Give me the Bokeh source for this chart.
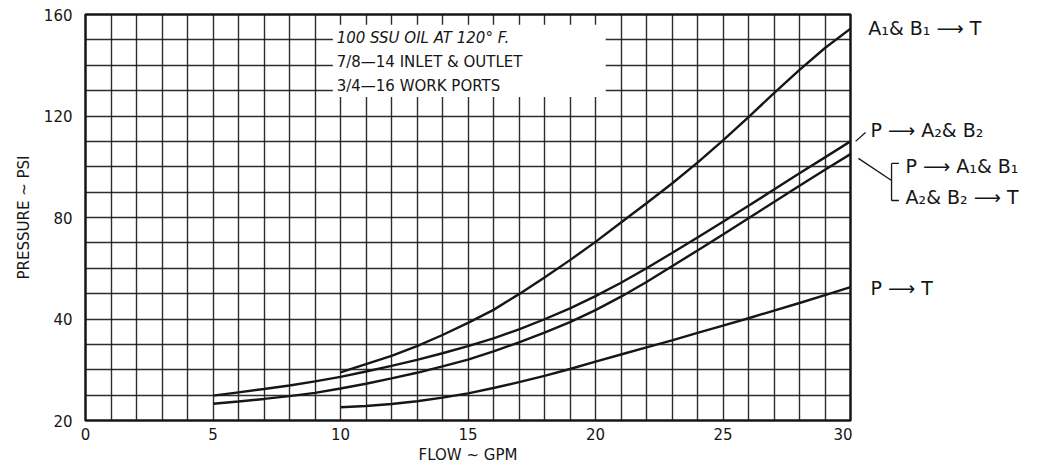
from bokeh.plotting import figure
from bokeh.layouts import row
from bokeh.models import FixedTicker, SingleIntervalTicker, Label, BoxAnnotation, Range1d
from bokeh.embed import file_html
from bokeh.resources import INLINE

# ---- data ----
flow_a1b1 = list(range(10, 31))
press_a1b1_t = [19.0, 22.2, 25.5, 29.3, 33.7, 38.5, 43.6, 49.8, 56.4, 63.2, 70.4,
                78.0, 85.6, 93.4, 101.6, 110.4, 119.6, 129.0, 138.2, 146.8, 154.4]

flow_mid = list(range(5, 31))
press_p_a2b2 = [9.8, 11.1, 12.4, 13.8, 15.4, 17.2, 19.3, 21.5, 23.9, 26.5, 29.3, 32.4, 35.9,
                39.9, 44.2, 49.0, 54.3, 60.0, 66.0, 72.1, 78.3, 84.6, 91.0, 97.4, 103.7, 110.0]
press_p_a1b1 = [6.6, 7.5, 8.5, 9.6, 10.9, 12.6, 14.5, 16.6, 18.8, 21.3, 24.0, 27.2, 30.8,
                34.6, 38.8, 43.5, 48.8, 54.6, 60.8, 67.0, 73.3, 79.7, 86.1, 92.5, 98.8, 105.0]

flow_pt = list(range(10, 31))
press_p_t = [5.2, 5.7, 6.5, 7.6, 9.0, 10.7, 12.8, 15.1, 17.6, 20.3, 23.2,
             26.0, 28.8, 31.6, 34.5, 37.4, 40.3, 43.3, 46.3, 49.4, 52.6]

x_ticks = [0, 5, 10, 15, 20, 25, 30]
y_ticks = [0, 40, 80, 120, 160]
y_tick_text = ["20", "40", "80", "120", "160"]

note_lines = ["100  SSU  OIL  AT  120° F.", "7/8—14  INLET  &  OUTLET", "3/4—16  WORK  PORTS"]
curve_labels = ["A₁& B₁ ⟶ T", "P ⟶ A₂& B₂", "P ⟶ A₁& B₁", "A₂& B₂ ⟶ T", "P ⟶ T"]

INK = "#161616"
FONT = "DejaVu Sans"
PX_PER_X = 25.5

p = figure(frame_width=765, frame_height=406, x_range=Range1d(0, 30), y_range=Range1d(0, 160),
           output_backend="svg", toolbar_location=None,
           min_border_left=85, min_border_right=2, min_border_top=14, min_border_bottom=44,
           background_fill_color="white", border_fill_color="white")

p.outline_line_color = INK
p.outline_line_width = 2.5

p.xaxis.ticker = FixedTicker(ticks=x_ticks)
p.yaxis.ticker = FixedTicker(ticks=y_ticks)
p.yaxis.major_label_overrides = {t: s for t, s in zip(y_ticks, y_tick_text)}

for ax in (p.xaxis, p.yaxis):
    ax.axis_line_color = None
    ax.major_tick_line_color = None
    ax.minor_tick_line_color = None
    ax.major_tick_out = 0
    ax.major_tick_in = 0
    ax.major_label_text_font = FONT
    ax.major_label_text_font_size = "15px"
    ax.major_label_text_color = INK
    ax.axis_label_text_font = FONT
    ax.axis_label_text_font_size = "15px"
    ax.axis_label_text_font_style = "normal"
    ax.axis_label_text_color = INK

p.xaxis.axis_label = "FLOW ~ GPM"
p.yaxis.axis_label = "PRESSURE ~ PSI"
p.xaxis.major_label_standoff = 7
p.yaxis.major_label_standoff = 13
p.xaxis.axis_label_standoff = 3
p.yaxis.axis_label_standoff = 8

p.xgrid.ticker = SingleIntervalTicker(interval=1)
p.ygrid.ticker = SingleIntervalTicker(interval=10)
for g in (p.xgrid, p.ygrid):
    g.grid_line_color = INK
    g.grid_line_alpha = 0.9
    g.grid_line_width = 1.4

# curves
p.line(flow_a1b1, press_a1b1_t, line_color=INK, line_width=2.4)
p.line(flow_mid, press_p_a2b2, line_color=INK, line_width=2.4)
p.line(flow_mid, press_p_a1b1, line_color=INK, line_width=2.4)
p.line(flow_pt, press_p_t, line_color=INK, line_width=2.4)

# white note box
p.add_layout(BoxAnnotation(left=9.7, right=20.4, bottom=127.5, top=156, fill_color="white",
                           fill_alpha=1.0, line_color=None, level="underlay"))
note_y = [150.9, 141.1, 132.0]
for i, (txt, yy) in enumerate(zip(note_lines, note_y)):
    p.add_layout(Label(x=9.85, y=yy, text=txt, text_font=FONT, text_font_size="15px",
                       text_font_style="italic" if i == 0 else "normal",
                       text_color=INK, text_baseline="middle", text_align="left"))

# right-hand panel for the curve labels (same y scale, continues x scale)
x0 = 30 + 2 / PX_PER_X
q = figure(frame_width=180, frame_height=406,
           x_range=Range1d(x0, x0 + 180 / PX_PER_X), y_range=p.y_range,
           output_backend="svg", toolbar_location=None,
           x_axis_location=None, y_axis_location=None,
           min_border_left=0, min_border_right=0, min_border_top=14, min_border_bottom=44,
           background_fill_color="white", border_fill_color="white")
q.outline_line_color = None
q.grid.visible = False

label_pos = [(30.7, 154.5), (30.78, 114.3), (32.16, 100.1), (32.16, 87.9), (30.78, 52.4)]
q.text(x=[xy[0] for xy in label_pos], y=[xy[1] for xy in label_pos], text=curve_labels,
       text_font={"value": FONT}, text_font_size="19px", text_color=INK,
       text_baseline="middle", text_align="left")

# leader lines and bracket
seg_x0 = [30.2, 30.31, 31.61, 31.61, 31.61]
seg_y0 = [110.0, 103.3, 101.3, 101.3, 86.7]
seg_x1 = [30.59, 31.61, 31.61, 31.9, 31.9]
seg_y1 = [113.5, 94.6, 86.7, 101.3, 86.7]
q.segment(seg_x0, seg_y0, seg_x1, seg_y1, line_color=INK, line_width=1.3)

layout = row(p, q, spacing=0)
open("out.html", "w").write(file_html(layout, INLINE))
